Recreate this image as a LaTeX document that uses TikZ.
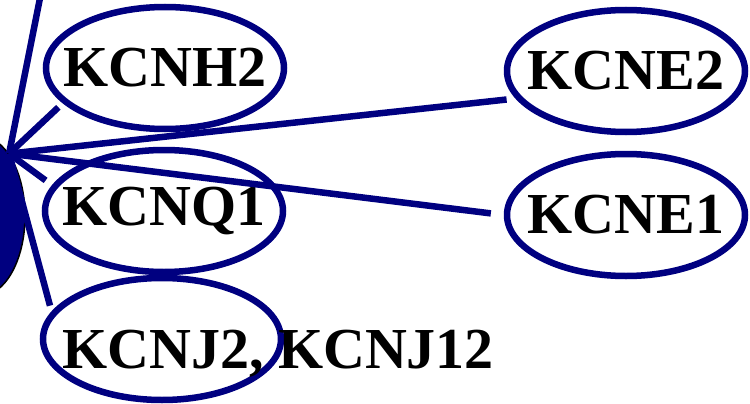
\documentclass[tikz,border=0pt]{standalone}
\usepackage{fontspec}
\setmainfont{Liberation Serif}
\usetikzlibrary{shapes.geometric}
\definecolor{navyc}{RGB}{0,0,128}
\tikzset{
  gene/.style={ellipse, draw=navyc, line width=6.5pt, minimum width=238pt, minimum height=122pt, inner sep=0pt},
  lbl/.style={inner sep=0pt, font=\fontsize{58}{58}\selectfont\bfseries},
  link/.style={draw=navyc, line width=6.5pt},
  gap/.style={shorten >=9pt},
  hubstyle/.style={ellipse, fill=navyc, draw=black, line width=1.5pt, minimum width=90pt, minimum height=160pt, inner sep=0pt}
}
\begin{document}
\begin{tikzpicture}[x=1pt,y=-1pt]
\useasboundingbox (0,0) rectangle (750,404);
\clip (0,0) rectangle (750,404);
\node[gene, label={[lbl]center:KCNH2}] (kcnh2) at (165,68) {};
\node[gene, label={[lbl]center:KCNQ1}] (kcnq1) at (164,211) {};
\node[gene] (kcnj2) at (162,339) {};
\node[lbl, anchor=base west] (kcnjlbl) at (62,368) {KCNJ2, KCNJ12};
\node[gene, label={[lbl]center:KCNE2}] (kcne2) at (626,71) {};
\node[gene, label={[lbl]center:KCNE1}] (kcne1) at (626,215) {};
\node[hubstyle] (hub) at (-20,216) {};
\coordinate (hp) at (hub.65);
\coordinate (offtop) at (42,-12);
\draw[link] (hp) -- (offtop);
\draw[link, shorten >=6pt] (hp) -- (kcnh2.199);
\draw[link, shorten >=8pt] (hp) -- (kcnq1.167);
\draw[link, shorten >=6pt] (hp) -- (kcnj2.166);
\draw[link, gap] (hp) -- (kcne2.194);
\draw[link, shorten >=13pt] (hp) -- (kcne1.180);
\end{tikzpicture}
\end{document}
